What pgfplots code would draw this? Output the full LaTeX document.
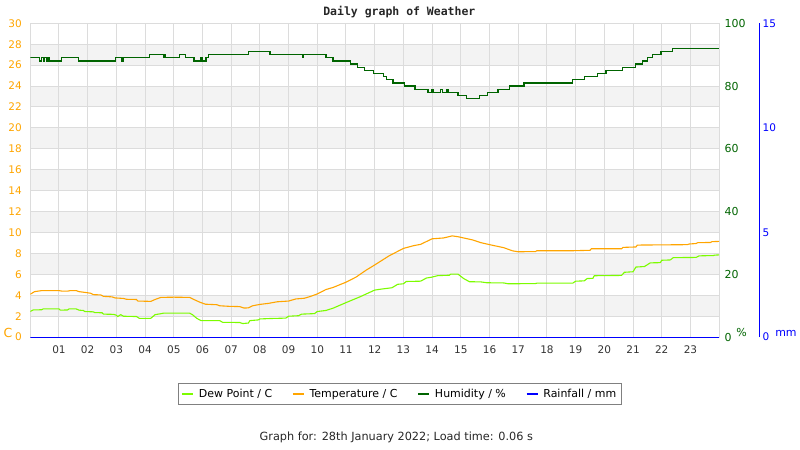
\documentclass[border=0pt]{standalone}
\usepackage{fontspec}
\setmainfont{DejaVu Sans}
\newfontfamily\titlefont{DejaVu Sans Mono}
\usepackage{pgfplots}
\pgfplotsset{compat=1.18}
\definecolor{tempc}{HTML}{FFA500}
\definecolor{dewc}{HTML}{7CFC00}
\definecolor{humc}{HTML}{006400}
\definecolor{rainc}{HTML}{0000FF}
\definecolor{gridc}{HTML}{DCDCDC}
\definecolor{bandc}{HTML}{F3F3F3}
\definecolor{legc}{HTML}{808080}

\pgfplotstableread{
h T
0.00 4.10
0.15 4.35
0.40 4.45
1.00 4.45
1.10 4.40
1.30 4.40
1.40 4.45
1.60 4.45
1.70 4.35
1.90 4.28
2.10 4.20
2.20 4.06
2.45 4.04
2.55 3.90
2.85 3.85
2.95 3.75
3.25 3.70
3.35 3.62
3.70 3.60
3.75 3.45
4.20 3.42
4.35 3.60
4.55 3.80
5.00 3.82
5.55 3.80
5.70 3.60
5.90 3.35
6.10 3.15
6.50 3.10
6.60 3.00
6.90 2.95
7.30 2.92
7.45 2.78
7.60 2.80
7.75 3.00
8.00 3.13
8.30 3.23
8.60 3.38
9.00 3.45
9.25 3.65
9.55 3.72
9.75 3.88
10.00 4.13
10.30 4.55
10.55 4.75
10.80 5.03
11.00 5.25
11.35 5.74
11.70 6.40
12.00 6.90
12.50 7.77
13.00 8.48
13.35 8.74
13.60 8.87
14.00 9.40
14.40 9.48
14.70 9.68
14.90 9.60
15.10 9.48
15.40 9.30
15.70 9.03
16.07 8.80
16.50 8.55
16.80 8.25
17.00 8.16
17.60 8.18
17.65 8.26
18.90 8.26
19.50 8.30
19.55 8.45
20.60 8.45
20.65 8.58
21.10 8.62
21.15 8.80
22.90 8.84
22.95 8.90
23.20 8.95
23.25 9.03
23.70 9.05
23.75 9.13
24.00 9.15
}\temptable

\pgfplotstableread{
h D
0.00 2.45
0.10 2.60
0.40 2.62
0.45 2.70
1.00 2.70
1.05 2.58
1.30 2.60
1.35 2.70
1.60 2.70
1.70 2.58
1.85 2.55
1.90 2.45
2.20 2.42
2.25 2.35
2.50 2.33
2.55 2.20
2.90 2.18
3.00 2.10
3.05 1.97
3.15 2.15
3.25 2.00
3.70 1.97
3.80 1.80
4.20 1.80
4.35 2.15
4.57 2.25
4.65 2.30
5.55 2.30
5.65 2.15
5.80 1.80
5.95 1.58
6.60 1.58
6.70 1.42
7.30 1.40
7.40 1.30
7.60 1.35
7.65 1.58
7.95 1.65
8.00 1.74
8.35 1.78
8.90 1.82
9.00 2.00
9.35 2.05
9.45 2.20
9.90 2.25
10.00 2.45
10.30 2.55
10.55 2.77
11.00 3.30
11.50 3.87
12.00 4.50
12.25 4.60
12.60 4.72
12.80 5.05
13.00 5.10
13.10 5.32
13.60 5.35
13.80 5.65
14.00 5.74
14.20 5.88
14.60 5.92
14.65 6.03
14.90 6.03
15.10 5.60
15.30 5.30
15.70 5.28
15.90 5.20
16.50 5.18
16.65 5.10
17.60 5.12
17.65 5.16
18.90 5.16
19.00 5.35
19.30 5.38
19.40 5.60
19.60 5.62
19.65 5.87
20.60 5.90
20.70 6.20
21.00 6.25
21.10 6.70
21.40 6.75
21.60 7.10
21.95 7.12
22.00 7.35
22.30 7.38
22.40 7.60
23.20 7.62
23.30 7.77
23.80 7.80
23.85 7.84
24.00 7.86
}\dewtable

\pgfplotstableread{
h H
0.00 89
0.33 88
0.38 89
0.45 88
0.50 89
0.56 88
0.60 89
0.65 88
1.10 89
1.68 88
2.96 89
3.20 88
3.25 89
4.15 90
4.64 89
4.67 90
4.72 89
5.20 90
5.40 89
5.70 88
5.95 89
6.00 88
6.12 89
6.20 90
7.60 91
8.35 90
9.48 89
9.52 90
10.30 89
10.55 88
11.15 87
11.40 86
11.65 85
11.95 84
12.30 83
12.42 82
12.64 81
13.04 80
13.40 79
13.86 78
14.00 79
14.05 78
14.30 79
14.35 78
14.50 79
14.55 78
14.90 77
15.20 76
15.65 77
15.94 78
16.30 79
16.70 80
17.20 81
18.90 82
19.30 83
19.75 84
20.06 85
20.64 86
21.08 87
21.33 88
21.50 89
21.68 90
21.97 91
22.38 92
24.00 92
}\humtable

\pgfplotstableread{
h R
0.00 0
24.00 0
}\raintable

\begin{document}
\begin{tikzpicture}[x=1pt,y=1pt]
\path (0,0) rectangle (800,450);

\begin{axis}[
  at={(30.3pt,112.3pt)}, anchor=south west,
  width=690pt, height=314.4pt, scale only axis,
  xmin=0, xmax=24, ymin=0, ymax=30,
  set layers,
  xtick={1,...,23},
  xticklabels={01,02,03,04,05,06,07,08,09,10,11,12,13,14,15,16,17,18,19,20,21,22,23},
  ytick={0,2,...,30},
  grid=major,
  major grid style={gridc, line width=1pt},
  axis line style={gridc, line width=1pt},
  major tick length=0pt,
  /pgf/number format/assume math mode=true,
  xticklabel style={text=black!80, font=\fontsize{10.5}{12}\selectfont, yshift=-5pt},
  yticklabel style={text=tempc, font=\fontsize{10.5}{12}\selectfont, xshift=-5pt},
  legend columns=4,
  legend style={at={(0.5365,-0.1807)}, anchor=center, draw=legc, line width=1pt,
    font=\fontsize{11}{13}\selectfont, inner xsep=3pt, inner ysep=3.5pt,
    /tikz/every even column/.append style={column sep=18pt},
    /tikz/every odd column/.append style={column sep=3pt}},
  legend image code/.code={\draw[#1, line width=1.5pt] (0pt,0pt) -- (11pt,0pt);},
]
\begin{pgfonlayer}{axis background}
\fill[bandc] (axis cs:0,2) rectangle (axis cs:24,4);
\fill[bandc] (axis cs:0,6) rectangle (axis cs:24,8);
\fill[bandc] (axis cs:0,10) rectangle (axis cs:24,12);
\fill[bandc] (axis cs:0,14) rectangle (axis cs:24,16);
\fill[bandc] (axis cs:0,18) rectangle (axis cs:24,20);
\fill[bandc] (axis cs:0,22) rectangle (axis cs:24,24);
\fill[bandc] (axis cs:0,26) rectangle (axis cs:24,28);
\end{pgfonlayer}
\addplot[dewc, line width=1.1pt] table[x=h, y=D] {\dewtable};
\addlegendentry{Dew Point / C}
\addplot[tempc, line width=1.1pt] table[x=h, y=T] {\temptable};
\addlegendentry{Temperature / C}
\addlegendimage{color=humc}
\addlegendentry{Humidity / \%}
\addlegendimage{color=rainc}
\addlegendentry{Rainfall / mm}
\end{axis}

\begin{axis}[
  at={(30.3pt,112.3pt)}, anchor=south west,
  width=690pt, height=314.4pt, scale only axis,
  xmin=0, xmax=24, ymin=0, ymax=100,
  axis x line=none, axis y line*=right,
  y axis line style={draw=none},
  ytick={0,20,...,100},
  major tick length=0pt,
  /pgf/number format/assume math mode=true,
  yticklabel style={text=humc, font=\fontsize{11}{13}\selectfont, xshift=2pt},
]
\addplot[humc, line width=1.3pt, const plot] table[x=h, y=H] {\humtable};
\end{axis}

\begin{axis}[
  at={(30.3pt,112.3pt)}, anchor=south west,
  width=730pt, height=314.4pt, scale only axis,
  xmin=0, xmax=25.3913, ymin=0, ymax=15,
  axis x line=none, axis y line*=right,
  y axis line style={rainc, line width=1pt},
  ytick={0,5,10,15},
  major tick length=0pt,
  /pgf/number format/assume math mode=true,
  yticklabel style={text=rainc, font=\fontsize{10.5}{12}\selectfont},
]
\addplot[rainc, line width=1.2pt] table[x=h, y=R] {\raintable};
\end{axis}

\node[font=\titlefont\bfseries\fontsize{11.5}{13}\selectfont, text=black!85] at (400,437.5) {Daily graph of Weather};
\node[font=\fontsize{12.5}{14}\selectfont, text=tempc, anchor=west] at (0,117) {C};
\node[font=\fontsize{11}{13}\selectfont, text=humc, anchor=west] at (734,117) {\%};
\node[font=\fontsize{11}{13}\selectfont, text=rainc, anchor=west] at (773,116) {mm};
\node[font=\fontsize{11.3}{13}\selectfont, text=black!85] at (397,12) {Graph for: 28th January 2022; Load time: 0.06 s};
\end{tikzpicture}
\end{document}
